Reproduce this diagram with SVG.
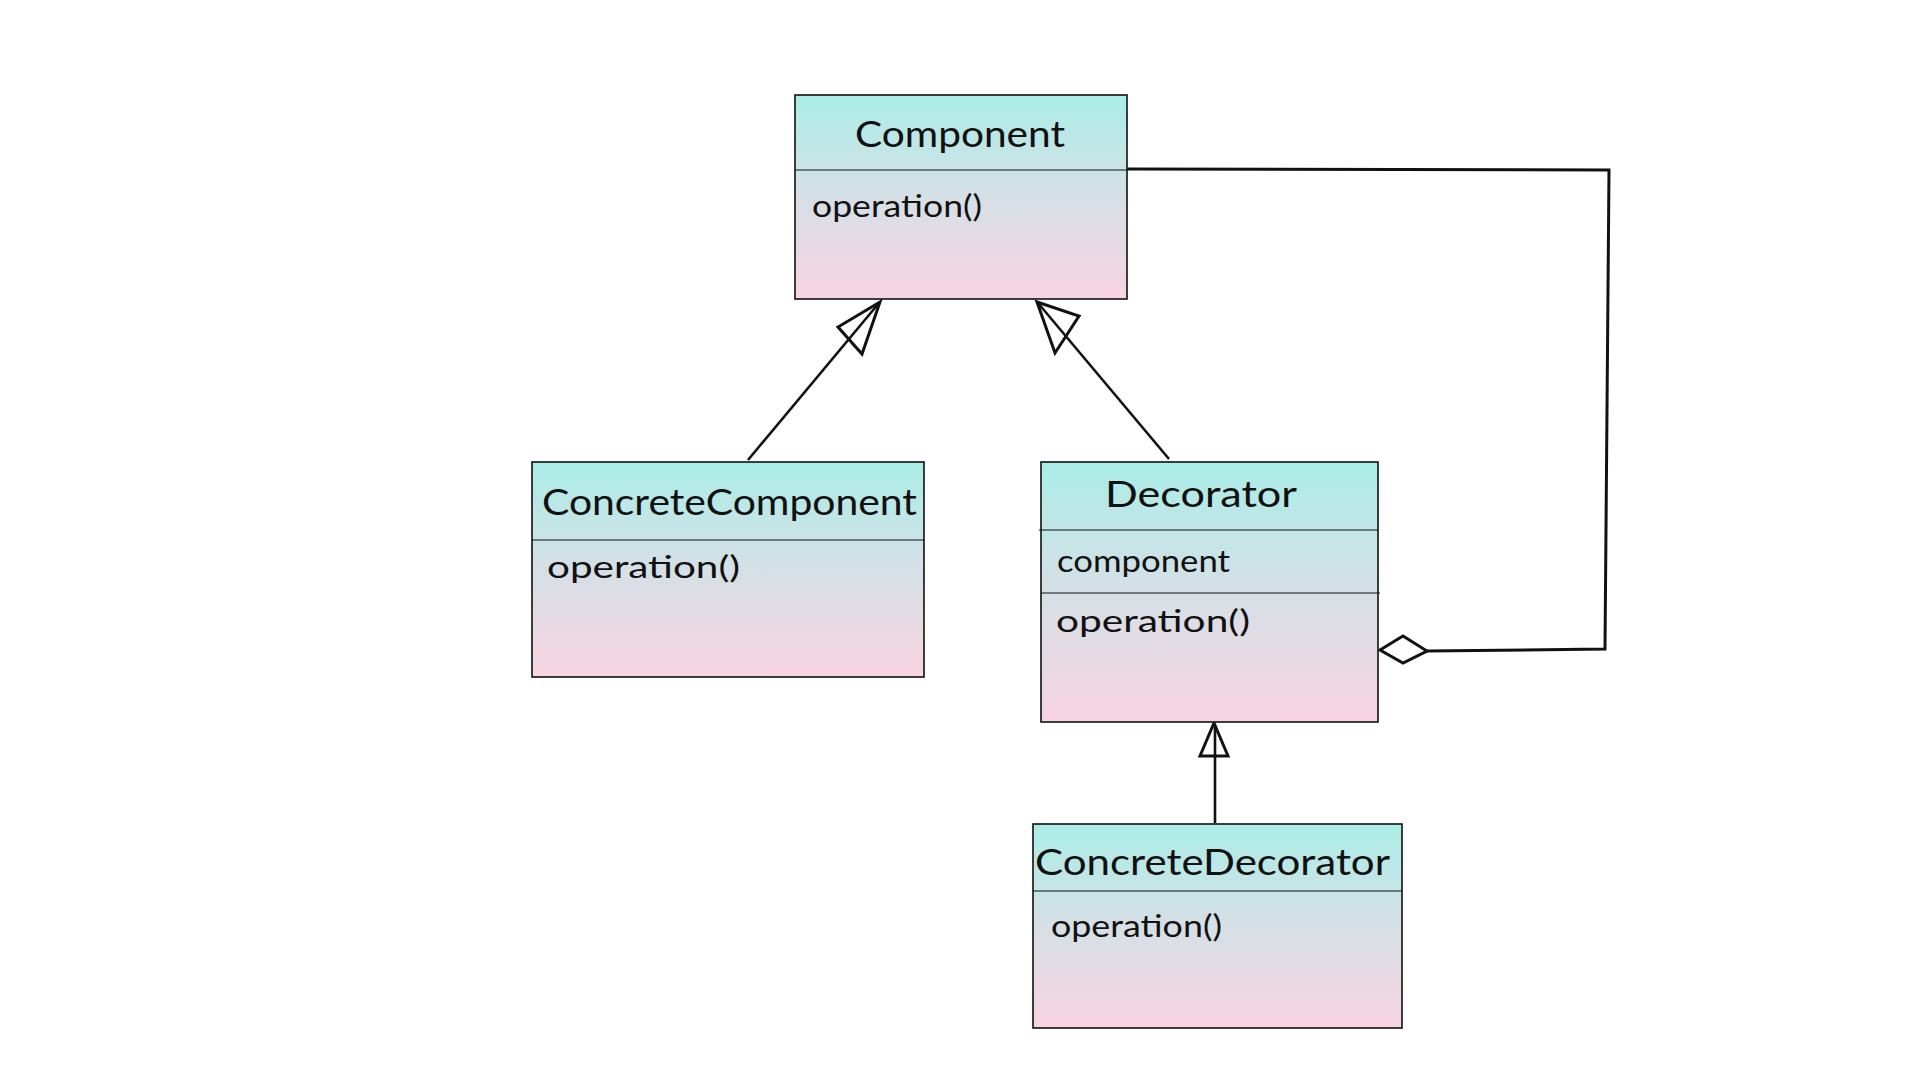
<svg xmlns="http://www.w3.org/2000/svg" width="1920" height="1080" viewBox="0 0 1920 1080">
  <defs>
    <linearGradient id="boxFill" x1="0" y1="0" x2="0" y2="1">
      <stop offset="0" stop-color="#aaede7"/>
      <stop offset="0.45" stop-color="#d2e1e6"/>
      <stop offset="1" stop-color="#f9d4e2"/>
    </linearGradient>
  </defs>
  <style>
    .box { fill: url(#boxFill); stroke: #111; stroke-width: 1.6; }
    .sep { stroke: #111; stroke-width: 1.2; }
    .title { font-family: Lato, "Open Sans", sans-serif; font-size: 36px; fill: #111; }
    .member { font-family: Lato, "Open Sans", sans-serif; font-size: 31px; fill: #111; }
    .edge { fill: none; stroke: #111; stroke-width: 2.6; stroke-linejoin: miter; }
    .head { fill: none; stroke: #111; stroke-width: 3; stroke-linejoin: miter; }
    .agg { fill: none; stroke: #111; stroke-width: 3; }
  </style>
  <rect width="1920" height="1080" fill="#ffffff"/>

  <!-- connectors -->
  <g id="connectors">
    <!-- ConcreteComponent generalises Component -->
    <line class="edge" x1="748" y1="460" x2="879" y2="303"/>
    <polygon class="head" points="880,302 838,327 862,354"/>
    <!-- Decorator generalises Component -->
    <line class="edge" x1="1169" y1="459" x2="1038" y2="303"/>
    <polygon class="head" points="1037,302 1055,353 1079,316"/>
    <!-- ConcreteDecorator generalises Decorator -->
    <line class="edge" x1="1215" y1="823" x2="1215" y2="725"/>
    <polygon class="head" points="1214,723 1200,756 1228,756"/>
    <!-- Decorator aggregates a Component -->
    <polyline class="agg" points="1127,169 1609,170 1605,649 1427,651"/>
    <polygon class="agg" fill="#ffffff" points="1380,650 1403,636 1427,651 1403,663"/>
  </g>

  <!-- Component -->
  <g id="component">
    <rect class="box" x="795" y="95" width="332" height="204"/>
    <line class="sep" x1="795" y1="170" x2="1127" y2="170"/>
    <text class="title" x="855" y="147" textLength="210" lengthAdjust="spacingAndGlyphs">Component</text>
    <text class="member" x="812" y="217" textLength="170" lengthAdjust="spacingAndGlyphs">operation()</text>
  </g>

  <!-- ConcreteComponent -->
  <g id="concrete-component">
    <rect class="box" x="532" y="462" width="392" height="215"/>
    <line class="sep" x1="532" y1="540" x2="924" y2="540"/>
    <text class="title" x="542" y="515" textLength="375" lengthAdjust="spacingAndGlyphs">ConcreteComponent</text>
    <text class="member" x="547" y="578" textLength="193" lengthAdjust="spacingAndGlyphs">operation()</text>
  </g>

  <!-- Decorator -->
  <g id="decorator">
    <rect class="box" x="1041" y="462" width="337" height="260"/>
    <line class="sep" x1="1039" y1="530" x2="1378" y2="530"/>
    <line class="sep" x1="1041" y1="593" x2="1380" y2="593"/>
    <text class="title" x="1105" y="507" textLength="192" lengthAdjust="spacingAndGlyphs">Decorator</text>
    <text class="member" x="1057" y="572" textLength="173" lengthAdjust="spacingAndGlyphs">component</text>
    <text class="member" x="1056" y="632" textLength="194" lengthAdjust="spacingAndGlyphs">operation()</text>
  </g>

  <!-- ConcreteDecorator -->
  <g id="concrete-decorator">
    <rect class="box" x="1033" y="824" width="369" height="204"/>
    <line class="sep" x1="1033" y1="891" x2="1402" y2="891"/>
    <text class="title" x="1035" y="875" textLength="355" lengthAdjust="spacingAndGlyphs">ConcreteDecorator</text>
    <text class="member" x="1051" y="937" textLength="171" lengthAdjust="spacingAndGlyphs">operation()</text>
  </g>
</svg>
